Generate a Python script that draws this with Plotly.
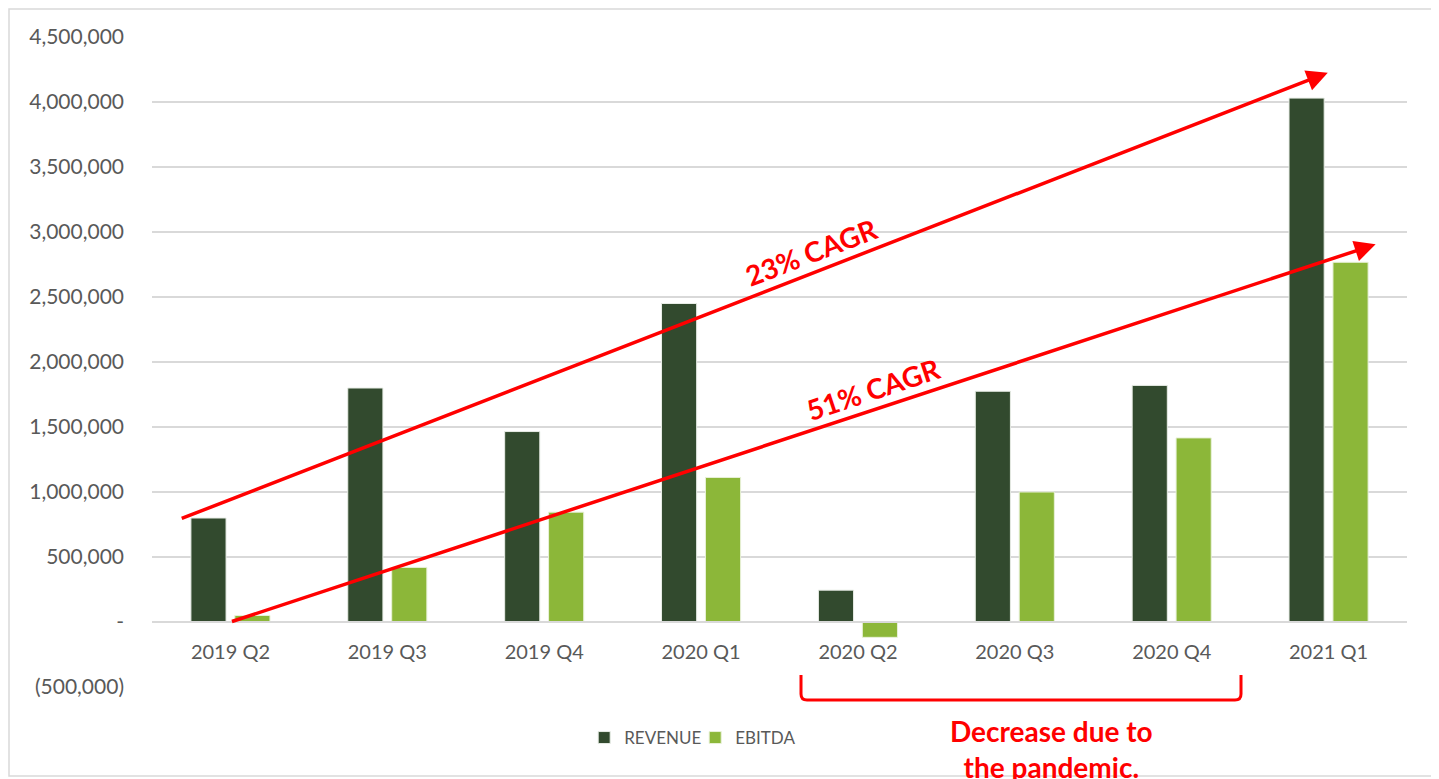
import plotly.graph_objects as go

# ---- data ----
quarters = ["2019 Q2", "2019 Q3", "2019 Q4", "2020 Q1", "2020 Q2", "2020 Q3", "2020 Q4", "2021 Q1"]
revenue = [800000, 1800000, 1465000, 2450000, 245000, 1775000, 1820000, 4030000]
ebitda = [50000, 420000, 845000, 1112000, -118000, 1000000, 1416000, 2767000]

y_tickvals = [-500000, 0, 500000, 1000000, 1500000, 2000000, 2500000, 3000000, 3500000, 4000000, 4500000]
y_ticktext = ["(500,000)", "-", "500,000", "1,000,000", "1,500,000", "2,000,000",
              "2,500,000", "3,000,000", "3,500,000", "4,000,000", "4,500,000"]

# trend arrows (category index, value)
arrow_23_tail = (-0.32, 792000)
arrow_23_tip = (6.995, 4225000)
arrow_51_tail = (0.0, 0)
arrow_51_tip = (7.30, 2905000)

REV_COLOR = "#324A2E"
EBITDA_COLOR = "#8CB739"
RED = "#FF0000"
GRID = "#D9D9D9"
TEXT = "#595959"
FONT = "Lato"

fig = go.Figure()
fig.add_trace(go.Bar(name="REVENUE", x=quarters, y=revenue, marker_color=REV_COLOR,
                     marker_line=dict(color="#E8EDE6", width=1)))
fig.add_trace(go.Bar(name="EBITDA", x=quarters, y=ebitda, marker_color=EBITDA_COLOR,
                     marker_line=dict(color="#E8F1D8", width=1)))

OFF = 8  # page body margin
W, H = 1439 - OFF, 779 - OFF
L, R, T, B = 152 - OFF, W - (1407 - OFF), 37 - OFF, H - (687 - OFF)
pw, ph = W - L - R, H - T - B


def px(xs):
    return (xs - OFF - L) / pw


def py(ys):
    return (H - B - (ys - OFF)) / ph


fig.update_layout(
    width=W, height=H,
    margin=dict(l=L, r=R, t=T, b=B, autoexpand=False),
    paper_bgcolor="white", plot_bgcolor="white",
    barmode="group", bargap=0.44, bargroupgap=0.2,
    font=dict(family=FONT, color=TEXT, size=20),
    showlegend=True,
    legend=dict(orientation="h", x=px(603) - 0.015, y=py(738), xanchor="left", yanchor="middle",
                font=dict(size=17, color=TEXT, family=FONT), itemwidth=30,
                entrywidth=66, entrywidthmode="pixels",
                bgcolor="rgba(0,0,0,0)"),
    xaxis=dict(type="category", anchor="free", position=py(622),
               showline=True, linecolor=GRID, linewidth=1.5, showgrid=False,
               ticks="", tickfont=dict(size=20, color=TEXT, family=FONT),
               ticklabelstandoff=12, fixedrange=True),
    yaxis=dict(range=[-500000, 4500000], tickvals=y_tickvals, ticktext=y_ticktext,
               showgrid=True, gridcolor=GRID, gridwidth=1.5, zeroline=False,
               showline=False, ticks="", tickfont=dict(size=21, color=TEXT, family=FONT),
               ticklabelstandoff=27, fixedrange=True),
)

# arrows
for tail, tip in [(arrow_23_tail, arrow_23_tip), (arrow_51_tail, arrow_51_tip)]:
    fig.add_annotation(x=tip[0], y=tip[1], ax=tail[0], ay=tail[1], xref="x", yref="y",
                       axref="x", ayref="y", text="", showarrow=True, arrowhead=2,
                       arrowsize=1.2, arrowwidth=3.5, arrowcolor=RED, standoff=0, startstandoff=0)

fig.add_annotation(x=px(811), y=py(252), xref="paper", yref="paper", text="<b>23% CAGR</b>",
                   textangle=-21, showarrow=False, font=dict(size=28, color=RED, family=FONT),
                   xanchor="center", yanchor="middle")
fig.add_annotation(x=px(873), y=py(389), xref="paper", yref="paper", text="<b>51% CAGR</b>",
                   textangle=-18.4, showarrow=False, font=dict(size=28, color=RED, family=FONT),
                   xanchor="center", yanchor="middle")
fig.add_annotation(x=px(1051), y=py(749), xref="paper", yref="paper",
                   text="<b>Decrease due to<br>the pandemic.</b>", showarrow=False,
                   font=dict(size=28, color=RED, family=FONT), xanchor="center", yanchor="middle",
                   align="center")

# bracket
bx0, bx1, by0, by1 = px(801), px(1241), py(675), py(700)
rx, ry = 6 / pw, 6 / ph
path = (f"M {bx0},{by0} L {bx0},{by1 + ry} Q {bx0},{by1} {bx0 + rx},{by1} "
        f"L {bx1 - rx},{by1} Q {bx1},{by1} {bx1},{by1 + ry} L {bx1},{by0}")
fig.add_shape(type="path", path=path, xref="paper", yref="paper",
              line=dict(color=RED, width=3))

# outer border
fig.add_shape(type="rect", xref="paper", yref="paper", x0=px(9), x1=px(1435), y0=py(776), y1=py(9),
              line=dict(color=GRID, width=1.5), layer="below")

fig.write_html("out.html")
